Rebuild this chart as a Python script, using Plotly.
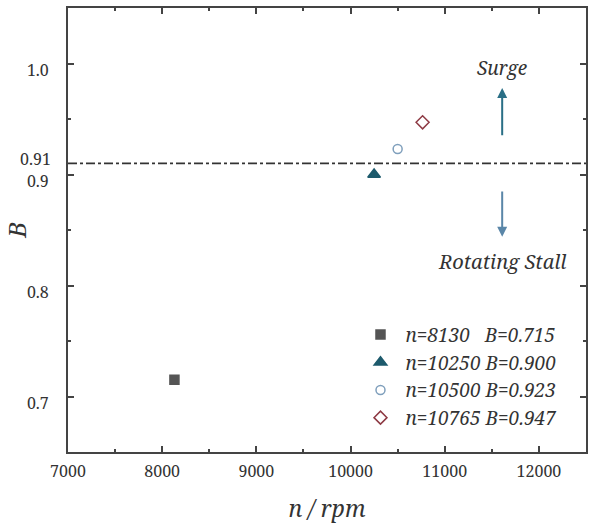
import plotly.graph_objects as go

speeds = [8130, 10250, 10500, 10765]
b_values = [0.715, 0.900, 0.923, 0.947]
legend_labels = ["n=8130&nbsp;&nbsp;&nbsp;B=0.715", "n=10250 B=0.900",
                 "n=10500 B=0.923", "n=10765 B=0.947"]
symbols = ["square", "triangle-up", "circle-open", "diamond-open"]
colors = ["#555555", "#1d5a6c", "#7f9fbc", "#8e3b45"]
sizes = [9, 11, 9, 10]
threshold = 0.91
x_ticks = [7000, 8000, 9000, 10000, 11000, 12000]
x_ticktext = ["7000", "8000", "9000", "10000", "11000", "12000"]
y_ticks = [0.7, 0.8, 0.9, 1.0]
y_ticktext = ["0.7", "0.8", "0.9", "1.0"]

SERIF = "Noto Serif"

fig = go.Figure()
for i in range(len(speeds)):
    fig.add_trace(go.Scatter(
        x=[speeds[i]], y=[b_values[i]], mode="markers", name="<i>" + legend_labels[i] + "</i>",
        marker=dict(symbol=symbols[i], color=colors[i], size=sizes[i],
                    line=dict(color=colors[i], width=1.5)),
    ))

fig.add_shape(type="line", xref="paper", x0=0, x1=1, yref="y", y0=threshold, y1=threshold,
              line=dict(color="#333333", width=1.6, dash="dashdot"))

fig.add_annotation(x=0, xref="paper", xanchor="right", xshift=-15, y=threshold, yshift=4,
                   text="0.91", showarrow=False, font=dict(family=SERIF, size=16, color="#333"))

arrow_x = 11610
fig.add_annotation(x=arrow_x, y=0.978, ax=arrow_x, ay=0.934, axref="x", ayref="y",
                   showarrow=True, arrowhead=2, arrowsize=1, arrowwidth=2, arrowcolor="#2a6f86", text="")
fig.add_annotation(x=arrow_x, y=0.844, ax=arrow_x, ay=0.886, axref="x", ayref="y",
                   showarrow=True, arrowhead=2, arrowsize=1, arrowwidth=2, arrowcolor="#5a86a8", text="")
fig.add_annotation(x=arrow_x, y=0.996, text="<i>Surge</i>", showarrow=False,
                   font=dict(family=SERIF, size=19, color="#333"))
fig.add_annotation(x=arrow_x, y=0.822, text="<i>Rotating Stall</i>", showarrow=False,
                   font=dict(family=SERIF, size=20, color="#333"))

axis_common = dict(showline=True, linecolor="#444", linewidth=2, mirror="ticks", ticks="inside",
                   ticklen=6, tickwidth=1.5, tickcolor="#444", showgrid=False, zeroline=False,
                   tickfont=dict(family=SERIF, size=16, color="#333"))

fig.update_xaxes(range=[7000, 12500], tickvals=x_ticks, ticktext=x_ticktext, ticklabelstandoff=4,
                 minor=dict(ticks="inside", ticklen=3, tickwidth=1.5, tickcolor="#444", dtick=500, tick0=7000),
                 title=dict(text="<i>n / rpm</i>", font=dict(family=SERIF, size=23, color="#333"), standoff=22),
                 **axis_common)
fig.update_yaxes(range=[0.65, 1.05], tickvals=y_ticks, ticktext=y_ticktext,
                 ticklabelstandoff=14, ticklabelshift=7,
                 minor=dict(ticks="inside", ticklen=3, tickwidth=1.5, tickcolor="#444", dtick=0.05, tick0=0.65),
                 title=dict(text="<i>B</i>", font=dict(family=SERIF, size=24, color="#333"), standoff=4),
                 **axis_common)

fig.update_layout(
    width=590, height=524, paper_bgcolor="white", plot_bgcolor="white",
    margin=dict(l=68, r=2, t=8, b=72),
    font=dict(family=SERIF),
    showlegend=True,
    legend=dict(x=0.555, y=0.307, xanchor="left", yanchor="top", bgcolor="rgba(0,0,0,0)",
                font=dict(family=SERIF, size=19, color="#333"), itemwidth=40, tracegroupgap=0),
)

fig.write_html("out.html")
